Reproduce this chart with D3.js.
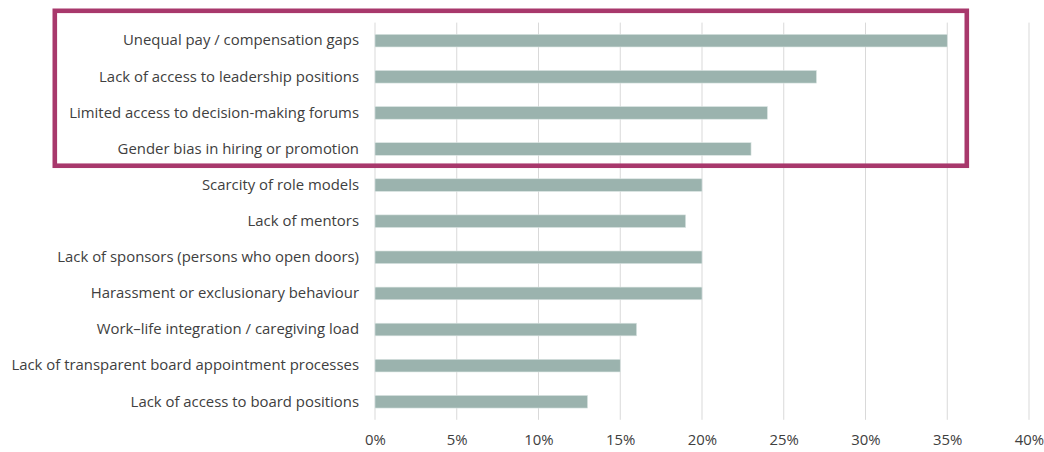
<!DOCTYPE html>
<html>
<head>
<meta charset="utf-8">
<script src="https://cdn.jsdelivr.net/npm/d3@7"></script>
<style>
  html, body { margin: 0; padding: 0; background: #ffffff; }
  svg { display: block; }
  text { font-family: "Open Sans", "Liberation Sans", sans-serif; fill: #404040; }
</style>
</head>
<body>
<svg id="chart" width="1044" height="452"></svg>
<script>
// Barriers, top to bottom
const categories = [
  "Unequal pay / compensation gaps",
  "Lack of access to leadership positions",
  "Limited access to decision-making forums",
  "Gender bias in hiring or promotion",
  "Scarcity of role models",
  "Lack of mentors",
  "Lack of sponsors (persons who open doors)",
  "Harassment or exclusionary behaviour",
  "Work\u2013life integration / caregiving load",
  "Lack of transparent board appointment processes",
  "Lack of access to board positions"
];
// Share of respondents
const shares = [0.35, 0.27, 0.24, 0.23, 0.20, 0.19, 0.20, 0.20, 0.16, 0.15, 0.13];
// Axis ticks
const tickValues = [0, 0.05, 0.10, 0.15, 0.20, 0.25, 0.30, 0.35, 0.40];
// Number of top rows inside the highlight frame
const highlightedCount = 4;

(function () {
  const svg = d3.select("#chart");

  const x = d3.scaleLinear().domain([0, 0.4]).range([375, 1029]);
  const y = d3.scaleBand()
    .domain(categories)
    .range([22.6, 419.8])
    .paddingInner(0.65)
    .paddingOuter(0.325);

  // Vertical gridlines
  svg.append("g")
    .selectAll("line")
    .data(tickValues)
    .join("line")
    .attr("x1", d => x(d))
    .attr("x2", d => x(d))
    .attr("y1", 22.6)
    .attr("y2", 419.8)
    .attr("stroke", "#d9d9d9")
    .attr("stroke-width", 1);

  // Bars
  svg.append("g")
    .selectAll("rect")
    .data(categories)
    .join("rect")
    .attr("x", x(0))
    .attr("y", d => y(d))
    .attr("width", (d, i) => x(shares[i]) - x(0))
    .attr("height", y.bandwidth())
    .attr("fill", "#9bb3ae")
    .attr("stroke", "#dbe5e3")
    .attr("stroke-width", 0.6);

  // Category labels
  const yAxis = d3.axisLeft(y).tickSize(0).tickPadding(0);
  const gy = svg.append("g").attr("transform", "translate(359,0)").call(yAxis);
  gy.select(".domain").remove();
  gy.selectAll("text")
    .attr("font-size", 14.9)
    .attr("fill", "#3a3a3a")
    .attr("font-family", "'Open Sans', 'Liberation Sans', sans-serif");

  // Percentage axis
  const xAxis = d3.axisBottom(x).tickValues(tickValues).tickFormat(d3.format(".0%")).tickSize(0).tickPadding(0);
  const gx = svg.append("g").attr("transform", "translate(0,434)").call(xAxis);
  gx.select(".domain").remove();
  gx.selectAll("text")
    .attr("font-size", 14.9)
    .attr("fill", "#3a3a3a")
    .attr("font-family", "'Open Sans', 'Liberation Sans', sans-serif");

  // Highlight frame around the leading barriers
  const gap = (y.step() - y.bandwidth()) / 2;
  const frameTop = y(categories[0]) - gap;
  const frameBottom = y(categories[highlightedCount - 1]) + y.bandwidth() + gap;
  svg.append("rect")
    .attr("x", 54.8)
    .attr("y", frameTop - 11.8)
    .attr("width", 966.8 - 54.8)
    .attr("height", frameBottom - frameTop + 10.5)
    .attr("fill", "none")
    .attr("stroke", "#a8386c")
    .attr("stroke-width", 4.6);
})();
</script>
</body>
</html>
